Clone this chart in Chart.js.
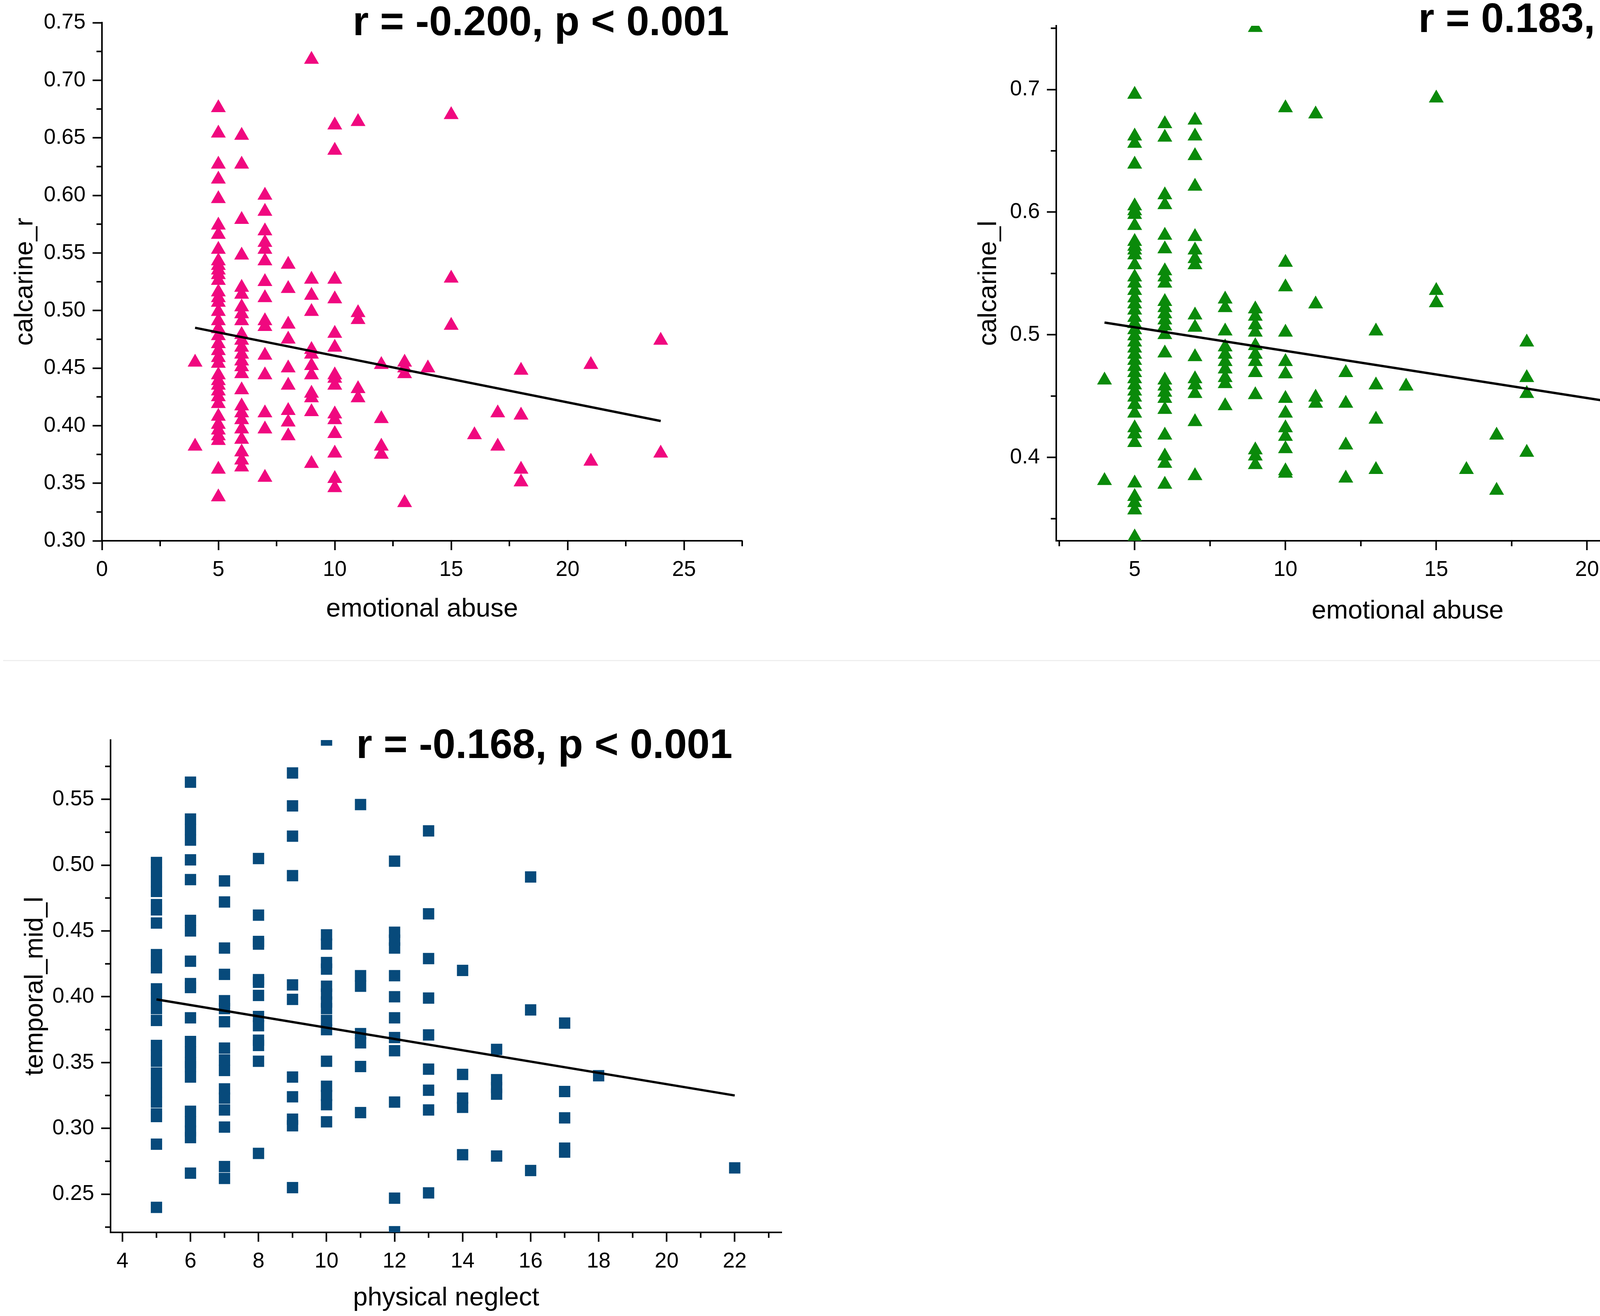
<!DOCTYPE html>
<html>
<head>
<meta charset="utf-8">
<script src="https://cdn.jsdelivr.net/npm/chart.js@4.4.1/dist/chart.umd.min.js"></script>
<style>
    body { margin: 0; width: 4550px; height: 3368px; background: #fff; position: relative; overflow: hidden; }
    .panel { position: absolute; }
    #sep { position: absolute; left: 8px; top: 1689px; width: 4542px; height: 3px; background: #efefef; }
</style>
</head>
<body>
<div class="panel" style="left:0;top:0;width:2000px;height:1650px"><canvas id="chartR"></canvas></div>
<div class="panel" style="left:2450px;top:0;width:2100px;height:1650px"><canvas id="chartL"></canvas></div>
<div id="sep"></div>
<div class="panel" style="left:0;top:1750px;width:2100px;height:1618px"><canvas id="chartT"></canvas></div>
<script>
    // --- calcarine_r vs emotional abuse ---
    const eaScoreR = [4, 5, 6, 7, 8, 9, 10, 11, 12, 13, 14, 15, 16, 17, 18, 21, 24];
    const calcarineR = [
        [0.455, 0.382],
        [0.676, 0.654, 0.627, 0.614, 0.597, 0.574, 0.566, 0.553, 0.543, 0.539, 0.535, 0.531, 0.526,
         0.516, 0.511, 0.507, 0.499, 0.491, 0.484, 0.478, 0.471, 0.465, 0.459, 0.454,
         0.444, 0.439, 0.435, 0.430, 0.425, 0.419, 0.408, 0.401, 0.396, 0.391, 0.387, 0.362, 0.338],
        [0.652, 0.627, 0.579, 0.548, 0.520, 0.514, 0.503, 0.497, 0.491, 0.479, 0.474, 0.468, 0.462,
         0.456, 0.451, 0.445, 0.431, 0.417, 0.411, 0.405, 0.397, 0.388, 0.377, 0.370, 0.364],
        [0.600, 0.586, 0.569, 0.559, 0.553, 0.543, 0.525, 0.511, 0.491, 0.486, 0.461, 0.444, 0.411, 0.397, 0.355],
        [0.540, 0.519, 0.488, 0.475, 0.450, 0.435, 0.413, 0.403, 0.391],
        [0.718, 0.527, 0.513, 0.499, 0.466, 0.462, 0.452, 0.444, 0.428, 0.424, 0.412, 0.367],
        [0.661, 0.639, 0.527, 0.510, 0.480, 0.468, 0.444, 0.441, 0.435, 0.410, 0.405, 0.393, 0.376, 0.354, 0.346],
        [0.664, 0.498, 0.492, 0.432, 0.424],
        [0.453, 0.406, 0.382, 0.375],
        [0.455, 0.450, 0.445, 0.333],
        [0.450],
        [0.670, 0.528, 0.487],
        [0.392],
        [0.411, 0.382],
        [0.448, 0.409, 0.362, 0.351],
        [0.453, 0.369],
        [0.474, 0.376]
    ];
    const fitRX = [4, 24];
    const fitRY = [0.485, 0.404];

    // --- calcarine_l vs emotional abuse ---
    const eaScoreL = [4, 5, 6, 7, 8, 9, 10, 11, 12, 13, 14, 15, 16, 17, 18, 21, 24];
    const calcarineL = [
        [0.463, 0.381],
        [0.696, 0.662, 0.656, 0.639, 0.605, 0.601, 0.598, 0.589, 0.576, 0.572, 0.569, 0.565, 0.557,
         0.547, 0.542, 0.536, 0.530, 0.525, 0.520, 0.514, 0.509, 0.504, 0.499, 0.494, 0.489, 0.484,
         0.479, 0.474, 0.469, 0.464, 0.459, 0.454, 0.449, 0.443, 0.436, 0.424, 0.419, 0.412,
         0.379, 0.368, 0.363, 0.357, 0.335],
        [0.672, 0.661, 0.614, 0.606, 0.581, 0.570, 0.552, 0.547, 0.542, 0.527, 0.522, 0.517, 0.512,
         0.507, 0.500, 0.485, 0.463, 0.458, 0.453, 0.448, 0.439, 0.418, 0.401, 0.395, 0.378],
        [0.675, 0.662, 0.646, 0.621, 0.580, 0.569, 0.562, 0.557, 0.516, 0.506, 0.482, 0.464, 0.459, 0.452, 0.429, 0.385],
        [0.529, 0.522, 0.503, 0.490, 0.484, 0.478, 0.472, 0.465, 0.460, 0.442],
        [0.7505, 0.521, 0.515, 0.508, 0.502, 0.491, 0.484, 0.478, 0.469, 0.451, 0.406, 0.401, 0.394],
        [0.685, 0.559, 0.539, 0.502, 0.478, 0.468, 0.448, 0.436, 0.424, 0.417, 0.407, 0.389, 0.387],
        [0.680, 0.525, 0.449, 0.444],
        [0.469, 0.444, 0.410, 0.383],
        [0.503, 0.459, 0.431, 0.390],
        [0.458],
        [0.693, 0.536, 0.526],
        [0.390],
        [0.418, 0.373],
        [0.494, 0.465, 0.452, 0.404],
        [0.457, 0.371],
        [0.475, 0.468]
    ];
    const fitLX = [4, 24];
    const fitLY = [0.510, 0.433];

    // --- temporal_mid_l vs physical neglect ---
    const pnScore = [5, 6, 7, 8, 9, 10, 11, 12, 13, 14, 15, 16, 17, 18, 22];
    const temporalMidL = [
        [0.502, 0.495, 0.487, 0.480, 0.470, 0.466, 0.456, 0.432, 0.427, 0.422, 0.406, 0.399, 0.391,
         0.382, 0.363, 0.356, 0.351, 0.342, 0.334, 0.327, 0.320, 0.311, 0.309, 0.288, 0.240],
        [0.563, 0.535, 0.527, 0.519, 0.504, 0.489, 0.458, 0.450, 0.427, 0.410, 0.407, 0.384, 0.366,
         0.358, 0.350, 0.347, 0.339, 0.313, 0.305, 0.298, 0.293, 0.266],
        [0.488, 0.472, 0.437, 0.417, 0.397, 0.391, 0.381, 0.361, 0.352, 0.344, 0.330, 0.323, 0.314, 0.301, 0.271, 0.262],
        [0.505, 0.462, 0.442, 0.440, 0.413, 0.411, 0.401, 0.385, 0.378, 0.367, 0.363, 0.351, 0.281],
        [0.570, 0.545, 0.522, 0.492, 0.409, 0.398, 0.339, 0.324, 0.307, 0.302, 0.255],
        [0.595, 0.447, 0.440, 0.426, 0.421, 0.408, 0.402, 0.396, 0.391, 0.382, 0.375, 0.351, 0.332, 0.325, 0.318, 0.305],
        [0.546, 0.416, 0.408, 0.372, 0.365, 0.347, 0.312],
        [0.503, 0.449, 0.443, 0.437, 0.416, 0.400, 0.384, 0.369, 0.359, 0.320, 0.247, 0.2215],
        [0.526, 0.463, 0.429, 0.399, 0.371, 0.345, 0.329, 0.314, 0.251],
        [0.420, 0.341, 0.323, 0.316, 0.280],
        [0.360, 0.337, 0.331, 0.326, 0.279],
        [0.491, 0.390, 0.268],
        [0.380, 0.328, 0.308, 0.285, 0.282],
        [0.340],
        [0.270]
    ];
    const fitTX = [5, 22];
    const fitTY = [0.398, 0.325];

    // tick values
    const ticksRX = [0, 5, 10, 15, 20, 25];
    const minorRX = [2.5, 7.5, 12.5, 17.5, 22.5, 27.5];
    const ticksRY = [0.30, 0.35, 0.40, 0.45, 0.50, 0.55, 0.60, 0.65, 0.70, 0.75];
    const minorRY = [0.325, 0.375, 0.425, 0.475, 0.525, 0.575, 0.625, 0.675, 0.725];
    const ticksLX = [5, 10, 15, 20, 25];
    const minorLX = [2.5, 7.5, 12.5, 17.5, 22.5];
    const ticksLY = [0.4, 0.5, 0.6, 0.7];
    const minorLY = [0.35, 0.45, 0.55, 0.65, 0.75];
    const ticksTX = [4, 6, 8, 10, 12, 14, 16, 18, 20, 22];
    const minorTX = [5, 7, 9, 11, 13, 15, 17, 19, 21, 23];
    const ticksTY = [0.25, 0.30, 0.35, 0.40, 0.45, 0.50, 0.55];
    const minorTY = [0.225, 0.275, 0.325, 0.375, 0.425, 0.475, 0.525, 0.575];

    const statLabels = ['r = -0.200, p < 0.001', 'r = 0.183, p <0.001', 'r = -0.168, p < 0.001'];

    Chart.defaults.font.family = '"Liberation Sans", Arial, sans-serif';
    Chart.defaults.color = '#000';

    function toPoints(xs, ys) {
        return xs.flatMap((x, i) => ys[i].map(y => ({ x: x, y: y })));
    }

    // garis tick minor di luar sumbu
    const minorTicks = {
        id: 'minorTicks',
        afterDraw(chart, args, opts) {
            const ctx = chart.ctx;
            ctx.save();
            ctx.strokeStyle = '#000';
            ctx.lineWidth = 4;
            (opts.x || []).forEach(v => {
                const s = chart.scales.x;
                const p = s.getPixelForValue(v);
                ctx.beginPath();
                ctx.moveTo(p, s.top);
                ctx.lineTo(p, s.top + 14);
                ctx.stroke();
            });
            (opts.y || []).forEach(v => {
                const s = chart.scales.y;
                const p = s.getPixelForValue(v);
                ctx.beginPath();
                ctx.moveTo(s.right, p);
                ctx.lineTo(s.right - 14, p);
                ctx.stroke();
            });
            ctx.restore();
        }
    };

    const statText = {
        id: 'statText',
        afterDraw(chart, args, opts) {
            const ctx = chart.ctx;
            ctx.save();
            ctx.font = 'bold 105px "Liberation Sans", Arial, sans-serif';
            ctx.fillStyle = '#000';
            ctx.textAlign = 'left';
            ctx.textBaseline = 'alphabetic';
            ctx.fillText(opts.text, opts.x, opts.y);
            ctx.restore();
        }
    };

    function makePanel(canvasId, cfg) {
        const axisBase = {
            type: 'linear',
            grid: { drawOnChartArea: false, drawTicks: true, tickLength: 24, tickWidth: 4, tickColor: '#000', color: '#000' },
            border: { display: true, color: '#000', width: 4 }
        };
        new Chart(document.getElementById(canvasId), {
            type: 'scatter',
            data: {
                datasets: [
                    {
                        type: 'line',
                        data: cfg.fitX.map((x, i) => ({ x: x, y: cfg.fitY[i] })),
                        borderColor: '#000',
                        borderWidth: 6,
                        pointRadius: 0,
                        fill: false,
                        clip: 0,
                        order: 1
                    },
                    {
                        data: cfg.points,
                        pointStyle: cfg.marker,
                        pointRadius: cfg.radius,
                        pointHoverRadius: cfg.radius,
                        backgroundColor: cfg.color,
                        borderColor: cfg.color,
                        borderWidth: 0,
                        clip: 0,
                        order: 2
                    }
                ]
            },
            options: {
                responsive: true,
                maintainAspectRatio: false,
                animation: false,
                events: [],
                layout: { padding: cfg.pad },
                plugins: {
                    legend: { display: false },
                    tooltip: { enabled: false },
                    minorTicks: { x: cfg.minorX, y: cfg.minorY },
                    statText: cfg.stat
                },
                scales: {
                    x: Object.assign({}, axisBase, {
                        min: cfg.xRange[0],
                        max: cfg.xRange[1],
                        afterBuildTicks: s => { s.ticks = cfg.ticksX.map(v => ({ value: v })); },
                        afterFit: s => { s.height = cfg.xH; },
                        ticks: { font: { size: 55 }, color: '#000', padding: 18, maxRotation: 0, autoSkip: false,
                                 callback: v => String(v) },
                        title: { display: true, text: cfg.xTitle, color: '#000', font: { size: 67 },
                                 padding: { top: 0, bottom: cfg.xTitlePad } }
                    }),
                    y: Object.assign({}, axisBase, {
                        min: cfg.yRange[0],
                        max: cfg.yRange[1],
                        afterBuildTicks: s => { s.ticks = cfg.ticksY.map(v => ({ value: v })); },
                        afterFit: s => { s.width = cfg.yW; },
                        ticks: { font: { size: 55 }, color: '#000', padding: 18, autoSkip: false,
                                 callback: v => v.toFixed(cfg.yDigits) },
                        title: { display: true, text: cfg.yTitle, color: '#000', font: { size: 67 },
                                 padding: { top: cfg.yTitlePad, bottom: 0 } }
                    })
                }
            },
            plugins: [minorTicks, statText]
        });
    }

    makePanel('chartR', {
        points: toPoints(eaScoreR, calcarineR), fitX: fitRX, fitY: fitRY,
        marker: 'triangle', radius: 22, color: '#f0087f',
        xRange: [0, 27.5], yRange: [0.30, 0.75],
        ticksX: ticksRX, ticksY: ticksRY, minorX: minorRX, minorY: minorRY, yDigits: 2,
        pad: { left: 0, right: 100, top: 58, bottom: 0 }, yW: 261, xH: 266,
        xTitle: 'emotional abuse', yTitle: 'calcarine_r', xTitlePad: 50, yTitlePad: 24,
        stat: { text: statLabels[0], x: 903, y: 90 }
    });

    makePanel('chartL', {
        points: toPoints(eaScoreL, calcarineL), fitX: fitLX, fitY: fitLY,
        marker: 'triangle', radius: 22, color: '#0a8a0a',
        xRange: [2.4, 25.7], yRange: [0.332, 0.752],
        ticksX: ticksLX, ticksY: ticksLY, minorX: minorLX, minorY: minorLY, yDigits: 1,
        pad: { left: 0, right: 47, top: 66, bottom: 0 }, yW: 254, xH: 266,
        xTitle: 'emotional abuse', yTitle: 'calcarine_l', xTitlePad: 45, yTitlePad: 41,
        stat: { text: statLabels[1], x: 1181, y: 82 }
    });

    makePanel('chartT', {
        points: toPoints(pnScore, temporalMidL), fitX: fitTX, fitY: fitTY,
        marker: 'rect', radius: 20.5, color: '#074a7b',
        xRange: [3.65, 23.38], yRange: [0.221, 0.595],
        ticksX: ticksTX, ticksY: ticksTY, minorX: minorTX, minorY: minorTY, yDigits: 2,
        pad: { left: 0, right: 99, top: 144, bottom: 0 }, yW: 283, xH: 214,
        xTitle: 'physical neglect', yTitle: 'temporal_mid_l', xTitlePad: 5, yTitlePad: 50,
        stat: { text: statLabels[2], x: 912, y: 190 }
    });
</script>
</body>
</html>
